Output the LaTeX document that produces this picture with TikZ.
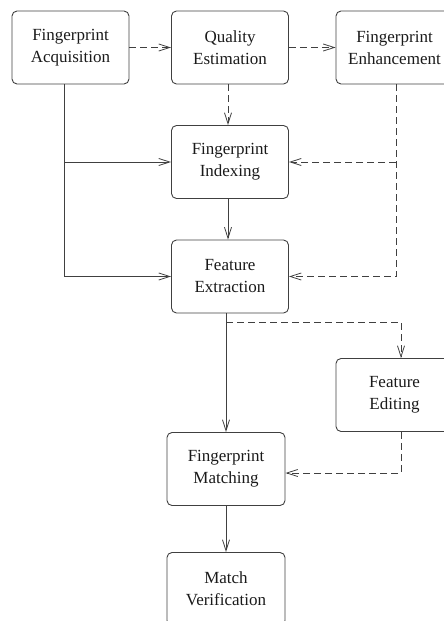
\documentclass[tikz,border=0pt]{standalone}
\usepackage{fontspec}
\setmainfont{Liberation Serif}
\usetikzlibrary{arrows.meta}
\definecolor{ln}{HTML}{404040}
\definecolor{tx}{HTML}{1a1a1a}
\tikzset{
  box/.style={draw=ln, line width=0.9pt, rounded corners=5pt, minimum width=117pt, minimum height=73pt,
    align=center, inner sep=0pt, text=tx, font=\fontsize{17}{22}\selectfont},
  solidarrow/.style={draw=ln, line width=0.9pt, -{Straight Barb[length=11pt,width=7pt,line width=0.8pt]}},
  dasharrow/.style={solidarrow, dash pattern=on 7pt off 4pt},
  solidline/.style={draw=ln, line width=0.9pt},
  dashline/.style={solidline, dash pattern=on 7pt off 4pt}
}
\begin{document}
\begin{tikzpicture}[x=1pt,y=-1pt]
\useasboundingbox (0,0) rectangle (444,621);
\clip (0,0) rectangle (444,621);
\node[box] (acq) at (70.5,47.5) {Fingerprint\\Acquisition};
\node[box] (qual) at (230,47.5) {Quality\\Estimation};
\node[box] (enh) at (394.5,47.5) {Fingerprint\\Enhancement};
\node[box] (idx) at (230,162) {Fingerprint\\Indexing};
\node[box] (ext) at (230,276.5) {Feature\\Extraction};
\node[box] (edit) at (394.5,395) {Feature\\Editing};
\node[box, minimum width=118pt] (mat) at (226,469) {Fingerprint\\Matching};
\node[box, minimum width=118pt] (ver) at (226,589) {Match\\Verification};

\coordinate (av) at (64,84);
\coordinate (ev) at (396,84);
\coordinate (fx) at (226,322);
\coordinate (fe) at (401,322);

\draw[dasharrow] (acq.east) -- (qual.west);
\draw[dasharrow] (qual.east) -- (enh.west);
\draw[dasharrow] ([xshift=-2pt]qual.south) -- ([xshift=-2pt]idx.north);
\draw[solidarrow] (av) |- (ext.west);
\draw[solidarrow] (av |- idx.west) -- (idx.west);
\draw[dasharrow] (ev) |- (ext.east);
\draw[dasharrow] (ev |- idx.east) -- (idx.east);
\draw[solidarrow] ([xshift=-2pt]idx.south) -- ([xshift=-2pt]ext.north);
\draw[solidarrow] (ext.south -| mat) -- (mat.north);
\draw[dasharrow] (fx) -- (fe) -- (fe |- edit.north);
\draw[dasharrow] (fe |- edit.south) |- ([yshift=-4pt]mat.east);
\draw[solidarrow] (mat.south) -- (ver.north);
\end{tikzpicture}
\end{document}
